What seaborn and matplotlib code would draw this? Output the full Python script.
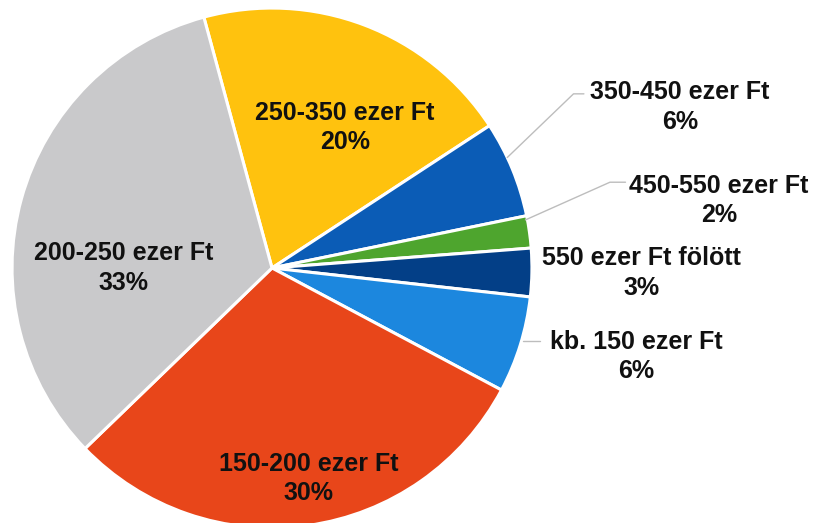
"""
Havi jövedelem kategóriák - kördiagram
"""
import matplotlib
matplotlib.use("Agg")
import matplotlib.pyplot as plt
import seaborn as sns
import numpy as np

# Adatok (az óramutató járásával megegyező sorrendben, felülről)
categories = ['250-350 ezer Ft', '350-450 ezer Ft', '450-550 ezer Ft',
              '550 ezer Ft fölött', 'kb. 150 ezer Ft', '150-200 ezer Ft',
              '200-250 ezer Ft']
shares = [20, 6, 2, 3, 6, 30, 33]
colors = ['#FFC20E', '#0B5CB6', '#4EA52E', '#033F87', '#1C87DE', '#E8461A', '#C9C9CB']

# Címke pozíciók (adatkoordináták, a kör sugara = 1)
label_pos = [(0.28, 0.54), (1.57, 0.62), (1.72, 0.26), (1.42, -0.02),
             (1.40, -0.34), (0.14, -0.81), (-0.57, 0.0)]
# Vezetővonalak: (kezdőpont a körön, töréspont, vég)
leaders = {1: [(0.905, 0.425), (1.16, 0.67), (1.20, 0.67)],
           2: [(0.975, 0.185), (1.30, 0.33), (1.36, 0.33)],
           4: [(0.965, -0.28), (1.03, -0.28)]}

sns.set_theme(style='white')
plt.rcParams['font.family'] = ['Liberation Sans', 'DejaVu Sans']

fig = plt.figure(figsize=(8.19, 5.23), dpi=100)
ax = fig.add_axes([0, 0, 1, 1])
ax.pie(shares, colors=colors, startangle=105.2, counterclock=False,
       radius=1.0, wedgeprops=dict(edgecolor='white', linewidth=2.2))

for i, (cat, val) in enumerate(zip(categories, shares)):
    if i in leaders:
        pts = np.array(leaders[i])
        ax.plot(pts[:, 0], pts[:, 1], color='#BDBDBD', lw=1.0, zorder=1)
    x, y = label_pos[i]
    ax.text(x, y, f'{cat}\n{val}%', ha='center', va='center', fontsize=18,
            fontweight='bold', color='#111111', linespacing=1.3)

ax.set_xlim(-1.046, 2.104)
ax.set_ylim(-0.981, 1.031)
ax.set_aspect('equal')
ax.axis('off')

fig.savefig('out.png', dpi=100)
plt.close(fig)
